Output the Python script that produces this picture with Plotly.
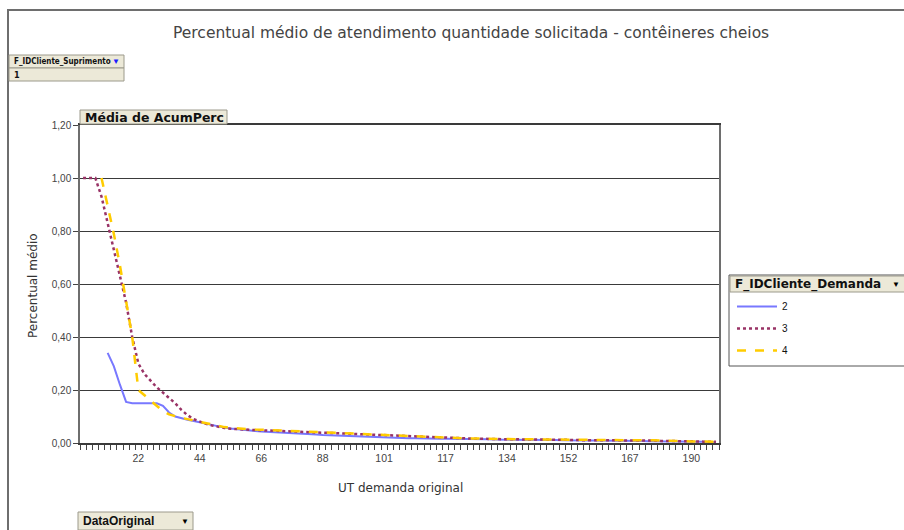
import plotly.graph_objects as go

# ---- data -------------------------------------------------------------
# Average accumulated percentage per UT category (104 categories, in order)
ut_tick_labels = ["22", "44", "66", "88", "101", "117", "134", "152", "167", "190"]
ut_tick_every = 10
n_categories = 104

serie_2 = [None, None, None, None, 0.34, 0.29, 0.22, 0.155, 0.15, 0.15,
           0.15, 0.15, 0.15, 0.14, 0.115, 0.10, 0.093, 0.088, 0.083, 0.078,
           0.072, 0.066, 0.062, 0.058, 0.055, 0.052, 0.049, 0.047, 0.045, 0.043,
           0.042, 0.040, 0.039, 0.038, 0.037, 0.036, 0.035, 0.034, 0.032, 0.030,
           0.029, 0.028, 0.027, 0.026, 0.025, 0.024, 0.023, 0.022, 0.021, 0.020,
           0.019, 0.019, 0.018, 0.018, 0.018, 0.017, 0.017, 0.017, 0.016, 0.016,
           0.016, 0.015, 0.015, 0.015, 0.014, 0.014, 0.014, 0.013, 0.013, 0.013,
           0.012, 0.012, 0.012, 0.012, 0.011, 0.011, 0.011, 0.011, 0.010, 0.010,
           0.010, 0.010, 0.010, 0.009, 0.009, 0.009, 0.009, 0.009, 0.008, 0.008,
           0.008, 0.008, 0.007, 0.007, 0.007, 0.006, 0.006, 0.006, 0.005, 0.005,
           0.005, 0.005, 0.004, 0.004]

serie_3 = [1.00, 1.00, 1.00, 0.93, 0.83, 0.74, 0.64, 0.53, 0.40, 0.30,
           0.26, 0.235, 0.21, 0.19, 0.17, 0.15, 0.125, 0.105, 0.09, 0.08,
           0.072, 0.066, 0.061, 0.057, 0.054, 0.052, 0.051, 0.050, 0.049, 0.048,
           0.047, 0.046, 0.045, 0.044, 0.043, 0.042, 0.041, 0.040, 0.039, 0.038,
           0.037, 0.036, 0.035, 0.034, 0.033, 0.032, 0.031, 0.030, 0.029, 0.028,
           0.027, 0.026, 0.025, 0.025, 0.024, 0.023, 0.022, 0.021, 0.020, 0.019,
           0.018, 0.018, 0.017, 0.017, 0.016, 0.016, 0.015, 0.015, 0.015, 0.014,
           0.014, 0.014, 0.013, 0.013, 0.013, 0.013, 0.012, 0.012, 0.012, 0.012,
           0.011, 0.011, 0.011, 0.011, 0.011, 0.010, 0.010, 0.010, 0.010, 0.010,
           0.009, 0.009, 0.009, 0.009, 0.008, 0.008, 0.007, 0.007, 0.006, 0.006,
           0.006, 0.005, 0.005, 0.005]

serie_4 = [None, None, None, 1.00, 0.90, 0.79, 0.67, 0.54, 0.40, 0.20,
           0.18, 0.16, 0.14, 0.12, 0.108, 0.10, 0.095, 0.09, 0.085, 0.08,
           0.074, 0.069, 0.064, 0.060, 0.057, 0.055, 0.053, 0.052, 0.051, 0.050,
           0.049, 0.048, 0.047, 0.046, 0.045, 0.044, 0.043, 0.042, 0.041, 0.039,
           0.038, 0.037, 0.036, 0.035, 0.034, 0.033, 0.032, 0.031, 0.030, 0.030,
           0.029, 0.028, 0.027, 0.026, 0.025, 0.024, 0.023, 0.022, 0.021, 0.020,
           0.019, 0.018, 0.018, 0.017, 0.017, 0.016, 0.016, 0.015, 0.015, 0.015,
           0.014, 0.014, 0.014, 0.014, 0.013, 0.013, 0.013, 0.013, 0.012, 0.012,
           0.012, 0.012, 0.012, 0.012, 0.011, 0.011, 0.011, 0.011, 0.011, 0.011,
           0.010, 0.010, 0.010, 0.010, 0.009, 0.008, 0.007, 0.007, 0.007, 0.006,
           0.006, 0.006, 0.005, 0.005]

series_names = ["2", "3", "4"]
series_values = [serie_2, serie_3, serie_4]
series_colors = ["#7878FF", "#993366", "#FFCC00"]
series_dash = ["solid", "dot", "dash"]
series_width = [2, 2.5, 2.5]

# ---- layout geometry (pixels) ----------------------------------------
W, H = 904, 530
ML, MR, MT, MB = 80, 185, 125, 87
PW, PH = W - ML - MR, H - MT - MB

def px(x):
    return (x - ML) / PW

def py(y):
    return (H - MB - y) / PH

FONT = "Liberation Sans, Arial, sans-serif"
WIDE = "DejaVu Sans, Verdana, sans-serif"
NARROW = "Liberation Sans Narrow, DejaVu Sans Condensed, Arial Narrow, sans-serif"
BTN_FILL = "#ECE9D8"
BTN_LINE = "#9C9A8C"

x_idx = list(range(1, n_categories + 1))

fig = go.Figure()
for i, (name, vals) in enumerate(zip(series_names, series_values)):
    fig.add_trace(go.Scatter(
        x=x_idx, y=vals, mode="lines", name=name, legendgroup=name,
        line=dict(color=series_colors[i], width=series_width[i], dash=series_dash[i]),
        connectgaps=False, showlegend=True,
    ))

shapes = []
annotations = []

def button(x0, y0, x1, y1, text, arrow=None, arrow_color="#000000",
           size=10, family=NARROW):
    shapes.append(dict(type="rect", xref="paper", yref="paper",
                       x0=px(x0), x1=px(x1), y0=py(y1), y1=py(y0),
                       fillcolor=BTN_FILL, line=dict(color=BTN_LINE, width=1),
                       layer="above"))
    annotations.append(dict(xref="paper", yref="paper", x=px(x0 + 3), y=py((y0 + y1) / 2),
                            xanchor="left", yanchor="middle", showarrow=False,
                            text="<b>" + text + "</b>",
                            font=dict(family=family, size=size, color="#111111")))
    if arrow:
        annotations.append(dict(xref="paper", yref="paper", x=px(x1 - 2), y=py((y0 + y1) / 2),
                                xanchor="right", yanchor="middle", showarrow=False,
                                text=arrow, font=dict(family=FONT, size=8, color=arrow_color)))

# outer frame of the chart area
shapes.append(dict(type="rect", xref="paper", yref="paper",
                   x0=px(8), x1=px(912), y0=py(540), y1=py(10),
                   line=dict(color="#6E6E6E", width=2), fillcolor="rgba(0,0,0,0)"))

# page field / data field buttons
button(9, 55, 124, 68, "F_IDCliente_Suprimento", "▼", "#1A1AFF", size=8)
button(9, 68, 124, 81, "1", size=9)
button(80, 110, 227, 124, "Média de AcumPerc", size=12.5, family=WIDE)
button(78, 512, 193, 530, "DataOriginal", "▼", "#000000", size=12, family=FONT)

# legend frame and its field header
shapes.append(dict(type="rect", xref="paper", yref="paper",
                   x0=px(729), x1=px(910), y0=py(366), y1=py(275),
                   line=dict(color="#555555", width=1), fillcolor="white", layer="below"))
button(730, 276, 910, 292, "F_IDCliente_Demanda", None, size=12, family=WIDE)
annotations.append(dict(xref="paper", yref="paper", x=px(902), y=py(284),
                        xanchor="right", yanchor="middle", showarrow=False,
                        text="▼", font=dict(family=FONT, size=8, color="#000000")))

# title and axis titles
annotations.append(dict(xref="paper", yref="paper", x=px(471), y=py(33),
                        xanchor="center", yanchor="middle", showarrow=False,
                        text="Percentual médio de atendimento quantidade solicitada - contêineres cheios",
                        font=dict(family=WIDE, size=15.5, color="#444444")))
annotations.append(dict(xref="paper", yref="paper", x=px(33), y=py(285),
                        xanchor="center", yanchor="middle", showarrow=False, textangle=-90,
                        text="Percentual médio",
                        font=dict(family=WIDE, size=12, color="#333333")))
annotations.append(dict(xref="paper", yref="paper", x=px(400), y=py(488),
                        xanchor="center", yanchor="middle", showarrow=False,
                        text="UT demanda original",
                        font=dict(family=WIDE, size=12, color="#333333")))

tick_pos = [ut_tick_every * (i + 1) for i in range(len(ut_tick_labels))]
boundaries = [k + 0.5 for k in range(0, n_categories + 1)]

fig.update_layout(
    width=W, height=H,
    margin=dict(l=ML, r=MR, t=MT, b=MB, pad=0),
    paper_bgcolor="white", plot_bgcolor="white",
    separators=", ",
    font=dict(family=FONT, size=10, color="#333333"),
    showlegend=True,
    legend=dict(x=px(732), y=py(292), xanchor="left", yanchor="top",
                bgcolor="rgba(0,0,0,0)", borderwidth=0,
                font=dict(family=FONT, size=10, color="#111111"),
                traceorder="grouped", tracegroupgap=3, itemwidth=40),
    xaxis=dict(range=[0.5, n_categories + 0.5], tickmode="array",
               tickvals=tick_pos, ticktext=ut_tick_labels,
               ticks="outside", ticklen=5, tickcolor="rgba(0,0,0,0)",
               showgrid=False, zeroline=False,
               showline=True, mirror=True, linecolor="#3A3A3A", linewidth=1.5,
               tickfont=dict(family=FONT, size=10.5, color="#444444"),
               minor=dict(tickmode="array", tickvals=boundaries, ticks="outside",
                          ticklen=5, tickcolor="#444444", tickwidth=1, showgrid=False)),
    yaxis=dict(range=[0, 1.2], tickmode="linear", tick0=0, dtick=0.2, tickformat=".2f",
               ticks="outside", ticklen=5, tickcolor="#444444",
               showgrid=True, gridcolor="#3A3A3A", gridwidth=1,
               zeroline=False, showline=True, mirror=True,
               linecolor="#6E6E6E", linewidth=1.5,
               tickfont=dict(family=FONT, size=10, color="#444444")),
    shapes=shapes,
    annotations=annotations,
)

fig.write_html("out.html")
